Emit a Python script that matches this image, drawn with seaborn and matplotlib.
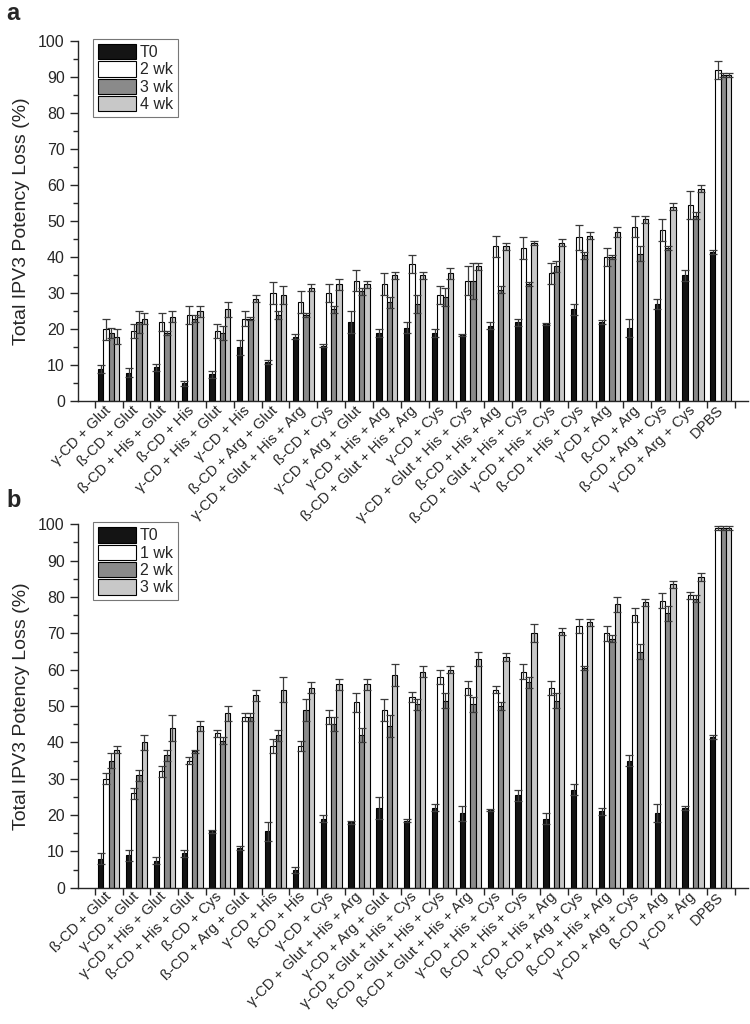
import numpy as np
import pandas as pd
import matplotlib
matplotlib.use("Agg")
import matplotlib.pyplot as plt
from matplotlib.ticker import MultipleLocator, FixedLocator
from matplotlib.patches import Patch
import seaborn as sns

# ---------------- data ----------------
labels_a = ["γ-CD + Glut", "ß-CD + Glut", "ß-CD + His + Glut", "ß-CD + His",
            "γ-CD + His + Glut", "γ-CD + His", "ß-CD + Arg + Glut",
            "γ-CD + Glut + His + Arg", "ß-CD + Cys", "γ-CD + Arg + Glut",
            "γ-CD + His + Arg", "ß-CD + Glut + His + Arg", "γ-CD + Cys",
            "γ-CD + Glut + His + Cys", "ß-CD + His + Arg", "ß-CD + Glut + His + Cys",
            "γ-CD + His + Cys", "ß-CD + His + Cys", "γ-CD + Arg", "ß-CD + Arg",
            "ß-CD + Arg + Cys", "γ-CD + Arg + Cys", "DPBS"]
series_a = ["T0", "2 wk", "3 wk", "4 wk"]
a_t0 = [9, 8, 9.5, 5, 7.5, 15, 11, 18, 15.5, 22, 19, 20.5, 19, 18.5, 21, 22, 21.5, 25.5, 22, 20.5, 27, 35, 41.5]
a_w2 = [20, 19.5, 22, 24, 19.5, 23, 30, 27.5, 30, 33.5, 32.5, 38, 29.5, 33.5, 43, 42.5, 35.5, 45.5, 40, 48.5, 47.5, 54.5, 92]
a_w3 = [19, 22, 19, 23, 19, 23, 24, 24, 25.5, 30.5, 27.5, 27, 29, 33.5, 31, 32.5, 37.5, 40.5, 40, 41, 42.5, 51.5, 90.5]
a_w4 = [18, 23, 23.5, 25, 25.5, 28.5, 29.5, 31.5, 32.5, 32.5, 35, 35, 35.5, 37.5, 43, 44, 44, 46, 47, 50.5, 54, 59, 90.5]
a_e_t0 = [1.2, 1.2, 1, 0.8, 1, 2, 0.5, 0.8, 0.5, 3, 1, 1.5, 1, 0.3, 1, 1, 0.3, 1.5, 0.5, 2.5, 1.5, 1.5, 0.5]
a_e_w2 = [3, 2, 2.5, 2.5, 2, 2, 3, 3, 2.5, 3, 3, 2.5, 2.5, 4, 3, 3, 3, 3.5, 2.5, 3, 3, 4, 2.5]
a_e_w3 = [1.5, 3, 0.5, 1, 2, 0.5, 1, 0.5, 1, 1, 1.5, 2.5, 2.5, 5, 1, 0.5, 1.5, 1, 0.5, 2, 0.5, 1, 0.5]
a_e_w4 = [2, 1.5, 1.5, 1.5, 2, 1, 2.5, 1, 1.5, 1, 1, 1, 1.5, 1, 1, 0.5, 1, 1, 1.5, 1, 1, 1, 0.5]

labels_b = ["ß-CD + Glut", "γ-CD + Glut", "γ-CD + His + Glut", "ß-CD + His + Glut",
            "ß-CD + Cys", "ß-CD + Arg + Glut", "γ-CD + His", "ß-CD + His", "γ-CD + Cys",
            "γ-CD + Glut + His + Arg", "γ-CD + Arg + Glut", "γ-CD + Glut + His + Cys",
            "ß-CD + Glut + His + Cys", "ß-CD + Glut + His + Arg", "γ-CD + His + Cys",
            "ß-CD + His + Cys", "γ-CD + His + Arg", "ß-CD + Arg + Cys", "ß-CD + His + Arg",
            "γ-CD + Arg + Cys", "ß-CD + Arg", "γ-CD + Arg", "DPBS"]
series_b = ["T0", "1 wk", "2 wk", "3 wk"]
b_t0 = [8, 9, 7.5, 9.5, 15.5, 11, 15.5, 5, 19, 18, 22, 18.5, 22, 20.5, 21.5, 25.5, 19, 27, 21, 35, 20.5, 22, 41.5]
b_w1 = [30, 26, 32, 35, 42.5, 47, 39, 39, 47, 51, 49, 52.5, 58, 55, 54.5, 59.5, 55, 72, 70, 75, 79, 80.5, 99]
b_w2 = [35, 31, 36.5, 37.5, 40.5, 47, 42, 49, 45, 42, 44.5, 50.5, 51.5, 50.5, 50, 56.5, 51.5, 60.5, 68.5, 65, 75.5, 79.5, 99]
b_w3 = [38, 40, 44, 44.5, 48, 53, 54.5, 55, 56, 56, 58.5, 59.5, 60, 63, 63.5, 70, 70.5, 73, 78, 78.5, 83.5, 85.5, 99]
b_e_t0 = [1.5, 1.5, 1, 1, 0.3, 0.5, 2.5, 0.8, 1, 0.5, 3, 0.3, 1, 2, 0.3, 1.5, 1.5, 1.5, 1, 1.5, 2.5, 0.5, 0.5]
b_e_w1 = [1.5, 1.5, 1.5, 1, 1, 1, 2, 1.5, 2, 2.5, 3, 1.5, 2, 2, 1, 2, 2, 2, 2, 2, 2, 1, 0.5]
b_e_w2 = [2, 1.5, 1.5, 0.5, 1, 1, 1.5, 3, 2, 2, 3, 1.5, 2, 2, 1, 1.5, 2, 0.5, 1, 2, 2, 1, 0.5]
b_e_w3 = [1, 2, 3.5, 1.5, 2, 1.5, 3.5, 1.5, 1.5, 1.5, 3, 1.5, 1, 2, 1, 2.5, 1, 1, 2, 1, 1, 1, 0.5]

colors = ["#141414", "#ffffff", "#8a8a8a", "#c8c8c8"]

# ---------------- style ----------------
sns.set_style("ticks")
plt.rcParams["font.family"] = ["Liberation Sans", "DejaVu Sans"]
plt.rcParams["axes.linewidth"] = 1.0

fig = plt.figure(figsize=(7.5, 10.24), dpi=100)
ax_b = fig.add_axes([0.104, 0.133, 0.893, 0.355])
ax_a = fig.add_axes([0.104, 0.608, 0.893, 0.352])
ax_a.set_zorder(2)
ax_a.patch.set_alpha(0)
ax_b.patch.set_alpha(0)


def panel(ax, labels, series, vals, errs):
    rows = []
    for s, v in zip(series, vals):
        for lab, y in zip(labels, v):
            rows.append({"cond": lab, "time": s, "loss": y})
    df = pd.DataFrame(rows)
    sns.barplot(data=df, x="cond", y="loss", hue="time", order=labels,
                hue_order=series, palette=colors, width=0.76, errorbar=None,
                edgecolor="black", linewidth=0.8, saturation=1, ax=ax, legend=False)
    n = len(labels)
    bars = [p for p in ax.patches][: n * len(series)]
    for k, e in enumerate(errs):
        grp = bars[k * n:(k + 1) * n]
        xs = [p.get_x() + p.get_width() / 2 for p in grp]
        ys = [p.get_height() for p in grp]
        ax.errorbar(xs, ys, yerr=e, fmt="none", ecolor="#3a3a3a",
                    elinewidth=0.9, capsize=3, capthick=0.9, zorder=3)
    ax.set_ylim(0, 100)
    ax.set_xlim(-1.1, n - 0.03)
    ax.yaxis.set_major_locator(MultipleLocator(10))
    ax.yaxis.set_minor_locator(MultipleLocator(5))
    ax.tick_params(axis="y", which="major", length=6, width=1, labelsize=11.5, direction="out")
    ax.tick_params(axis="y", which="minor", length=3.5, width=1, direction="out")
    ax.xaxis.set_minor_locator(FixedLocator(np.arange(-0.5, n, 1.0)))
    ax.tick_params(axis="x", which="major", length=0, pad=5)
    ax.tick_params(axis="x", which="minor", length=5, width=1, direction="out")
    ax.set_xticks(range(n))
    ax.set_xticklabels(labels, rotation=45, ha="right", va="center",
                       rotation_mode="anchor", fontsize=10.5)
    ax.set_xlabel("")
    ax.set_ylabel("Total IPV3 Potency Loss (%)", fontsize=14, labelpad=6)
    sns.despine(ax=ax)
    handles = [Patch(facecolor=c, edgecolor="black", linewidth=0.8) for c in colors]
    leg = ax.legend(handles, series, loc="upper left", bbox_to_anchor=(0.022, 1.005),
                    borderaxespad=0, fontsize=11.5, handlelength=2.4, handleheight=1.1,
                    handletextpad=0.25, labelspacing=0.08, borderpad=0.3,
                    fancybox=False, frameon=True, edgecolor="#555555")
    leg.get_frame().set_linewidth(0.8)


panel(ax_a, labels_a, series_a, [a_t0, a_w2, a_w3, a_w4], [a_e_t0, a_e_w2, a_e_w3, a_e_w4])
panel(ax_b, labels_b, series_b, [b_t0, b_w1, b_w2, b_w3], [b_e_t0, b_e_w1, b_e_w2, b_e_w3])

fig.text(0.008, 0.998, "a", fontsize=17, fontweight="bold", va="top")
fig.text(0.008, 0.522, "b", fontsize=17, fontweight="bold", va="top")

fig.savefig("out.png", dpi=100)
